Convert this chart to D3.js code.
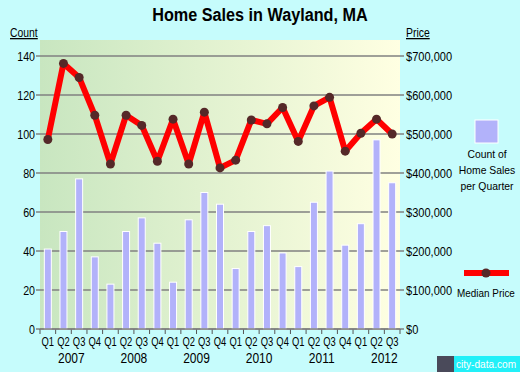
<!DOCTYPE html>
<html>
<head>
<meta charset="utf-8">
<script src="https://cdnjs.cloudflare.com/ajax/libs/d3/7.8.5/d3.min.js"></script>
<style>
  body { margin: 0; background: #c6fcfc; }
  svg { display: block; font-family: Arial, "Liberation Sans", sans-serif; }
</style>
</head>
<body>
<div id="viz"></div>
<script>
const width = 520, height = 372;
const plotLeft = 40, plotRight = 400, plotTop = 40, plotBottom = 329;

// data
const quarters = ["Q1","Q2","Q3","Q4","Q1","Q2","Q3","Q4","Q1","Q2","Q3","Q4",
  "Q1","Q2","Q3","Q4","Q1","Q2","Q3","Q4","Q1","Q2","Q3"];
const years = ["2007","2008","2009","2010","2011","2012"];
const salesCount = [41, 50, 77, 37, 23, 50, 57, 44, 24, 56, 70, 64,
  31, 50, 53, 39, 32, 65, 81, 43, 54, 97, 75];
const medianPrice = [486000, 681000, 645000, 548000, 423000, 548000, 522000, 430000,
  538000, 423000, 556000, 413000, 433000, 536000, 526000, 568000, 481000, 572000,
  594000, 456000, 502000, 538000, 500000];
const countTicks = [0, 20, 40, 60, 80, 100, 120, 140];
const priceTicks = [0, 100000, 200000, 300000, 400000, 500000, 600000, 700000];

const svg = d3.select("#viz").append("svg")
  .attr("width", width)
  .attr("height", height);

// the original font is narrower than Arial, so squeeze text horizontally
function squeeze(sel, k) {
  sel.each(function() {
    const w = this.getComputedTextLength();
    d3.select(this).attr("textLength", w * k).attr("lengthAdjust", "spacingAndGlyphs");
  });
}

const idx = d3.range(quarters.length);
const x = d3.scaleBand().domain(idx).range([plotLeft, plotRight]);
const y = d3.scaleLinear().domain([0, 140]).range([plotBottom, plotBottom - 273]);
const yP = d3.scaleLinear().domain([0, 700000]).range([plotBottom, plotBottom - 273]);
const cx = i => x(i) + x.bandwidth() / 2;

// background gradient
const grad = svg.append("defs").append("linearGradient").attr("id", "bg");
grad.append("stop").attr("offset", "0%").attr("stop-color", "#c8e6c0");
grad.append("stop").attr("offset", "100%").attr("stop-color", "#ffffe2");
svg.append("rect")
  .attr("x", plotLeft).attr("y", plotTop)
  .attr("width", plotRight - plotLeft).attr("height", plotBottom - plotTop)
  .attr("fill", "url(#bg)");

// title
svg.append("text")
  .attr("x", 260).attr("y", 21)
  .attr("text-anchor", "middle")
  .attr("font-size", "18px").attr("font-weight", "bold")
  .text("Home Sales in Wayland, MA")
  .call(squeeze, 0.9);

// grid lines
svg.append("g").selectAll("line")
  .data(countTicks)
  .enter().append("line")
  .attr("x1", plotLeft - 4).attr("x2", plotRight + 4)
  .attr("y1", d => y(d)).attr("y2", d => y(d))
  .attr("stroke", "#808080").attr("stroke-width", 1.3);

// left axis
const yAxis = svg.append("g")
  .attr("transform", `translate(${plotLeft - 4},0)`)
  .call(d3.axisLeft(y).tickValues(countTicks).tickSize(0).tickPadding(1));
yAxis.select(".domain").remove();
yAxis.selectAll("text").attr("font-size", "13px").attr("fill", "#000")
  .style("font-family", "Arial, 'Liberation Sans', sans-serif")
  .call(squeeze, 0.82);

// right axis
const yAxisR = svg.append("g")
  .attr("transform", `translate(${plotRight + 4},0)`)
  .call(d3.axisRight(yP).tickValues(priceTicks).tickSize(0).tickPadding(2)
    .tickFormat(d => "$" + d3.format(",")(d)));
yAxisR.select(".domain").remove();
yAxisR.selectAll("text").attr("font-size", "13px").attr("fill", "#000")
  .style("font-family", "Arial, 'Liberation Sans', sans-serif")
  .call(squeeze, 0.85);

// axis titles
svg.append("text").attr("x", 10).attr("y", 37)
  .attr("font-size", "13px").attr("text-decoration", "underline").text("Count")
  .call(squeeze, 0.8);
svg.append("text").attr("x", 406).attr("y", 37)
  .attr("font-size", "13px").attr("text-decoration", "underline").text("Price")
  .call(squeeze, 0.8);

// bars
svg.append("g").selectAll("rect")
  .data(salesCount)
  .enter().append("rect")
  .attr("x", (d, i) => cx(i) - 3.5)
  .attr("y", d => y(d))
  .attr("width", 7)
  .attr("height", d => plotBottom - y(d))
  .attr("fill", "#b2b2fa")
  .attr("stroke", "#ffffff").attr("stroke-width", 1);

// x axis ticks
const xa = svg.append("g");
xa.selectAll("line")
  .data(d3.range(quarters.length + 1))
  .enter().append("line")
  .attr("x1", i => plotLeft + i * x.step()).attr("x2", i => plotLeft + i * x.step())
  .attr("y1", plotBottom).attr("y2", plotBottom + 5)
  .attr("stroke", "#555");
xa.append("line").attr("x1", plotLeft).attr("x2", plotRight)
  .attr("y1", plotBottom).attr("y2", plotBottom).attr("stroke", "#808080").attr("stroke-width", 1.3);
xa.selectAll("text.q")
  .data(quarters)
  .enter().append("text")
  .attr("class", "q")
  .attr("x", (d, i) => cx(i)).attr("y", plotBottom + 17)
  .attr("text-anchor", "middle").attr("font-size", "12.5px")
  .text(d => d)
  .call(squeeze, 0.75);
xa.selectAll("text.yr")
  .data(years)
  .enter().append("text")
  .attr("class", "yr")
  .attr("x", (d, i) => plotLeft + (i * 4 + 2) * x.step())
  .attr("y", plotBottom + 34)
  .attr("text-anchor", "middle").attr("font-size", "15px")
  .text(d => d)
  .call(squeeze, 0.8);

// median price line
svg.append("path")
  .datum(medianPrice)
  .attr("d", d3.line().x((d, i) => cx(i)).y(d => yP(d)))
  .attr("fill", "none").attr("stroke", "#ff0000")
  .attr("stroke-width", 6).attr("stroke-linejoin", "round");
svg.append("g").selectAll("circle")
  .data(medianPrice)
  .enter().append("circle")
  .attr("cx", (d, i) => cx(i)).attr("cy", d => yP(d))
  .attr("r", 4.5).attr("fill", "#552828");

// legend
const lg = svg.append("g");
lg.append("rect").attr("x", 475).attr("y", 120).attr("width", 23).attr("height", 23)
  .attr("fill", "#b2b2fa").attr("stroke", "#ffffff");
["Count of", "Home Sales", "per Quarter"].forEach((t, i) => {
  lg.append("text").attr("x", 487).attr("y", 158 + i * 16)
    .attr("text-anchor", "middle").attr("font-size", "11.5px").text(t)
    .call(squeeze, 0.9);
});
lg.append("line").attr("x1", 464).attr("x2", 509).attr("y1", 273).attr("y2", 273)
  .attr("stroke", "#ff0000").attr("stroke-width", 6);
lg.append("circle").attr("cx", 486).attr("cy", 273).attr("r", 4.5).attr("fill", "#552828");
lg.append("text").attr("x", 486).attr("y", 297)
  .attr("text-anchor", "middle").attr("font-size", "11px").text("Median Price")
  .call(squeeze, 0.9);

// watermark
svg.append("rect").attr("x", 437).attr("y", 356).attr("width", 17).attr("height", 16)
  .attr("fill", "#4a4a5a");
svg.append("rect").attr("x", 454).attr("y", 356).attr("width", 66).attr("height", 16)
  .attr("fill", "#22f0f8");
svg.append("text").attr("x", 486).attr("y", 368)
  .attr("text-anchor", "middle").attr("font-size", "11px").attr("fill", "#ffffff")
  .text("city-data.com")
  .call(squeeze, 0.92);
</script>
</body>
</html>
